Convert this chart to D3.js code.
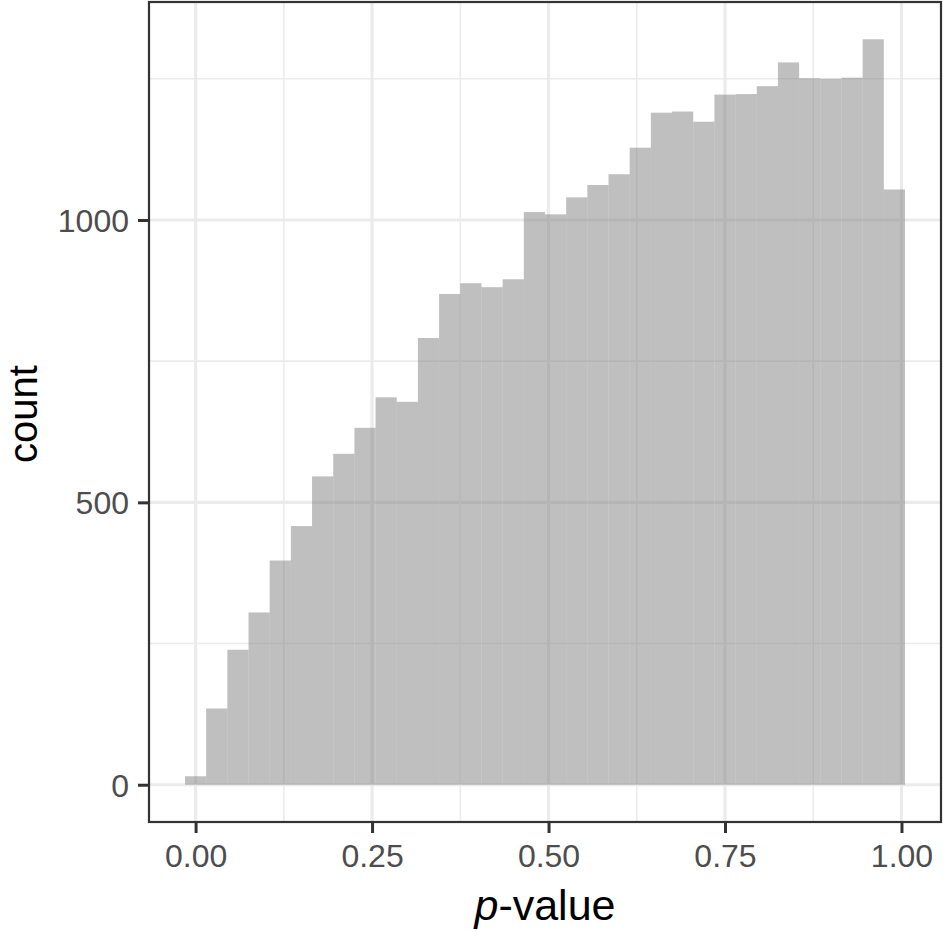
<!DOCTYPE html>
<html>
<head>
<meta charset="utf-8">
<script src="https://cdn.jsdelivr.net/npm/d3@7"></script>
<style>
  html, body { margin: 0; padding: 0; background: #fff; }
  svg { display: block; }
</style>
</head>
<body>
<script>
// ---- data ----
const binCenters = [0.00, 0.03, 0.06, 0.09, 0.12, 0.15, 0.18, 0.21, 0.24, 0.27,
                    0.30, 0.33, 0.36, 0.39, 0.42, 0.45, 0.48, 0.51, 0.54, 0.57,
                    0.60, 0.63, 0.66, 0.69, 0.72, 0.75, 0.78, 0.81, 0.84, 0.87,
                    0.90, 0.93, 0.96, 0.99];
const binWidth = 0.03;
const counts = [15, 135, 239, 305, 397, 458, 546, 586, 632, 686,
                678, 791, 869, 888, 881, 895, 1014, 1010, 1040, 1062,
                1081, 1128, 1190, 1192, 1174, 1222, 1223, 1237, 1279, 1251,
                1250, 1252, 1320, 1054];
const xTicks = [0, 0.25, 0.5, 0.75, 1];
const xTickLabels = ["0.00", "0.25", "0.50", "0.75", "1.00"];
const xMinor = [0.125, 0.375, 0.625, 0.875];
const yTicks = [0, 500, 1000];
const yMinor = [250, 750, 1250];

// ---- layout ----
const W = 945, H = 933;
const panel = { left: 149, right: 941, top: 2, bottom: 822 };
const FONT = "'Liberation Sans', Arial, Helvetica, sans-serif";

const svg = d3.select("body").append("svg").attr("width", W).attr("height", H);

const xmin = d3.min(binCenters) - binWidth / 2, xmax = d3.max(binCenters) + binWidth / 2;
const xpad = (xmax - xmin) * 0.05;
const x = d3.scaleLinear().domain([xmin - xpad, xmax + xpad]).range([panel.left, panel.right]);
const ymax = d3.max(counts);
const ypad = ymax * 0.05;
const y = d3.scaleLinear().domain([-ypad, ymax + ypad]).range([panel.bottom, panel.top]);

const grid = svg.append("g");
// minor grid
grid.selectAll(".xminor").data(xMinor).join("line")
  .attr("x1", d => x(d)).attr("x2", d => x(d))
  .attr("y1", panel.top).attr("y2", panel.bottom)
  .attr("stroke", "#EBEBEB").attr("stroke-width", 1.6);
grid.selectAll(".yminor").data(yMinor).join("line")
  .attr("x1", panel.left).attr("x2", panel.right)
  .attr("y1", d => y(d)).attr("y2", d => y(d))
  .attr("stroke", "#EBEBEB").attr("stroke-width", 1.6);
// major grid
grid.selectAll(".xmajor").data(xTicks).join("line")
  .attr("x1", d => x(d)).attr("x2", d => x(d))
  .attr("y1", panel.top).attr("y2", panel.bottom)
  .attr("stroke", "#EBEBEB").attr("stroke-width", 3.2);
grid.selectAll(".ymajor").data(yTicks).join("line")
  .attr("x1", panel.left).attr("x2", panel.right)
  .attr("y1", d => y(d)).attr("y2", d => y(d))
  .attr("stroke", "#EBEBEB").attr("stroke-width", 3.2);

// bars
svg.append("g").selectAll("rect").data(binCenters).join("rect")
  .attr("x", d => x(d - binWidth / 2))
  .attr("width", d => x(d + binWidth / 2) - x(d - binWidth / 2))
  .attr("y", (d, i) => y(counts[i]))
  .attr("height", (d, i) => y(0) - y(counts[i]))
  .attr("fill", "#7F7F7F").attr("fill-opacity", 0.5);

// panel border
svg.append("rect")
  .attr("x", panel.left).attr("y", panel.top)
  .attr("width", panel.right - panel.left).attr("height", panel.bottom - panel.top)
  .attr("fill", "none").attr("stroke", "#333333").attr("stroke-width", 2.2);

// axes
const xAxis = d3.axisBottom(x).tickValues(xTicks).tickFormat((d, i) => xTickLabels[i])
  .tickSize(11).tickPadding(10);
const gx = svg.append("g").attr("transform", `translate(0,${panel.bottom})`).call(xAxis);
gx.select(".domain").remove();
gx.selectAll(".tick line").attr("stroke", "#333333").attr("stroke-width", 3);
gx.selectAll(".tick text").attr("fill", "#4D4D4D")
  .style("font-family", FONT).style("font-size", "32px")
  .attr("dy", null).attr("y", 45);

const yAxis = d3.axisLeft(y).tickValues(yTicks).tickFormat(d3.format("d"))
  .tickSize(11).tickPadding(10);
const gy = svg.append("g").attr("transform", `translate(${panel.left},0)`).call(yAxis);
gy.select(".domain").remove();
gy.selectAll(".tick line").attr("stroke", "#333333").attr("stroke-width", 3);
gy.selectAll(".tick text").attr("fill", "#4D4D4D")
  .style("font-family", FONT).style("font-size", "32px")
  .attr("x", -20).attr("dy", "0.36em");

// axis titles
const xt = svg.append("text")
  .attr("x", (panel.left + panel.right) / 2).attr("y", 920)
  .attr("text-anchor", "middle")
  .style("font-family", FONT).style("font-size", "43px")
  .attr("fill", "#000");
xt.append("tspan").attr("font-style", "italic").text("p");
xt.append("tspan").text("-value");

svg.append("text")
  .attr("transform", `translate(37,${(panel.top + panel.bottom) / 2 + 2}) rotate(-90)`)
  .attr("text-anchor", "middle")
  .style("font-family", FONT).style("font-size", "40px")
  .attr("fill", "#000")
  .text("count");
</script>
</body>
</html>
